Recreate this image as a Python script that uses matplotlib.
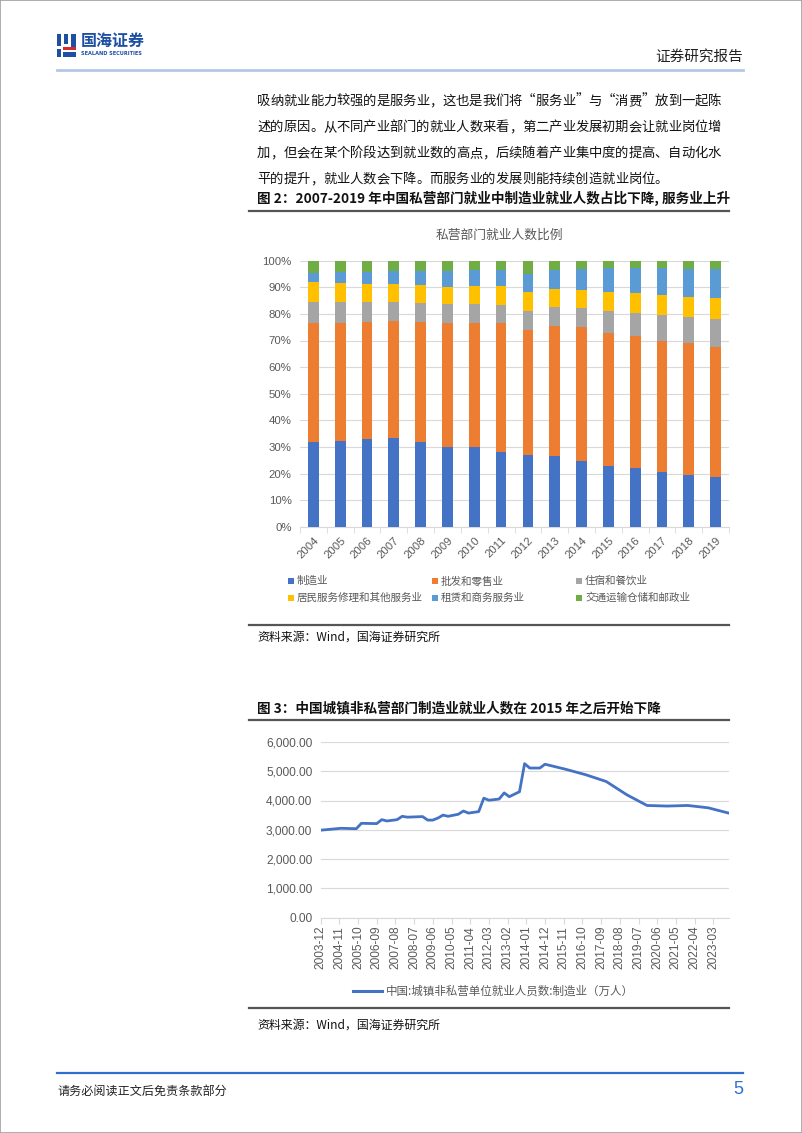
import matplotlib
matplotlib.use('Agg')
import matplotlib.pyplot as plt
import pandas as pd
from matplotlib.patches import Rectangle
from matplotlib.lines import Line2D

plt.rcParams['font.family'] = ['Noto Sans CJK SC', 'DejaVu Sans']

# ---------------- data ----------------
years = [str(y) for y in range(2004, 2020)]
manufacturing = [31.8, 32.2, 33.1, 33.4, 31.8, 29.8, 30.0, 27.9, 26.9, 26.4, 24.6, 22.9, 21.9, 20.5, 19.5, 18.5]
wholesale     = [44.7, 44.3, 43.9, 44.0, 45.1, 46.7, 46.5, 48.5, 47.1, 49.1, 50.3, 50.1, 49.9, 49.4, 49.5, 48.9]
hotel         = [8.1, 7.8, 7.6, 7.2, 7.2, 7.3, 7.1, 7.0, 7.0, 7.1, 7.2, 8.1, 8.7, 9.5, 9.8, 10.5]
resident      = [7.4, 7.2, 6.7, 6.5, 6.8, 6.5, 7.0, 7.1, 7.1, 6.9, 7.0, 7.0, 7.4, 7.6, 7.6, 8.0]
leasing       = [3.5, 4.4, 4.6, 4.9, 5.1, 5.8, 5.9, 6.0, 6.8, 7.1, 7.9, 9.2, 9.4, 10.3, 10.4, 10.9]
transport     = [4.5, 4.1, 4.1, 4.0, 4.0, 3.9, 3.5, 3.5, 5.1, 3.4, 3.0, 2.7, 2.7, 2.7, 3.2, 3.2]
bar_series_names = ['制造业', '批发和零售业', '住宿和餐饮业',
                    '居民服务修理和其他服务业', '租赁和商务服务业', '交通运输仓储和邮政业']
bar_colors = ['#4472C4', '#ED7D31', '#A5A5A5', '#FFC000', '#5B9BD5', '#70AD47']

line_dates = ['2003-12', '2004-12', '2005-09', '2005-12', '2006-09', '2006-12', '2007-03',
              '2007-09', '2007-12', '2008-03', '2008-12', '2009-03', '2009-06', '2009-09',
              '2009-12', '2010-03', '2010-09', '2010-12', '2011-03', '2011-09', '2011-12',
              '2012-03', '2012-09', '2012-12', '2013-03', '2013-09', '2013-12', '2014-03',
              '2014-09', '2014-12', '2015-12', '2016-12', '2017-12', '2018-12', '2019-12',
              '2020-12', '2021-12', '2022-12', '2023-12']
line_values = [2985, 3050, 3035, 3220, 3210, 3345, 3300,
               3345, 3460, 3430, 3450, 3330, 3330, 3400,
               3500, 3460, 3530, 3640, 3570, 3620, 4080,
               4010, 4050, 4260, 4130, 4300, 5260, 5110,
               5110, 5240, 5070, 4880, 4650, 4200, 3830,
               3810, 3830, 3750, 3570]
line_label = '中国:城镇非私营单位就业人员数:制造业（万人）'

# ---------------- page helpers ----------------
W, H = 802, 1133
fig = plt.figure(figsize=(W / 100, H / 100), dpi=100)

def fx(x):
    return x / W

def fy(y):
    return 1 - y / H

def rect(l, t, r, b):
    return [l / W, 1 - b / H, (r - l) / W, (b - t) / H]

def hline(x0, x1, y, color, lw):
    fig.add_artist(Line2D([fx(x0), fx(x1)], [fy(y), fy(y)], color=color, lw=lw,
                          transform=fig.transFigure))

def ftext(x, y, s, **kw):
    kw.setdefault('va', 'center')
    fig.text(fx(x), fy(y), s, **kw)

# page frame
fig.add_artist(Rectangle((0, 0), 1, 1, transform=fig.transFigure, fill=False,
                         ec='#A0A0A0', lw=1.2))

# ---------------- header ----------------
logo_blue = '#1D4FA3'
logo_red = '#D7282F'
for (l, t, r, b, c) in [(57, 34, 61, 46, logo_blue), (64, 34, 68, 44, logo_blue),
                        (71, 34, 76, 48, logo_blue), (57, 49, 61, 57, logo_blue),
                        (63, 47, 76, 50, logo_red), (63, 52, 76, 57, logo_blue)]:
    fig.add_artist(Rectangle((fx(l), fy(b)), (r - l) / W, (b - t) / H,
                             transform=fig.transFigure, color=c, lw=0))
ftext(81, 41, '国海证券', fontsize=11.5, color=logo_blue, fontweight='bold')
ftext(81, 53.5, 'SEALAND SECURITIES', fontsize=3.6, color=logo_blue, fontweight='bold',
      family='DejaVu Sans')
ftext(743, 57, '证券研究报告', fontsize=10.5, color='#222222', ha='right')
hline(57, 743, 70, '#B4C7E7', 2.0)

# ---------------- body text ----------------
body_lines = ['吸纳就业能力较强的是服务业，这也是我们将“服务业”与“消费”放到一起陈',
              '述的原因。从不同产业部门的就业人数来看，第二产业发展初期会让就业岗位增',
              '加，但会在某个阶段达到就业数的高点，后续随着产业集中度的提高、自动化水',
              '平的提升，就业人数会下降。而服务业的发展则能持续创造就业岗位。']
x_start, x_end = 257, 721
pitch = (x_end - x_start) / len(body_lines[1])
for i, ln in enumerate(body_lines):
    y = 101 + i * 26
    p = (x_end - x_start) / len(ln) if i < 3 else pitch
    for j, ch in enumerate(ln):
        ftext(x_start + (j + 0.5) * p, y, ch, fontsize=9.6, color='#111111', ha='center')

# ---------------- figure 2 ----------------
ftext(257, 198, '图 2：2007-2019 年中国私营部门就业中制造业就业人数占比下降, 服务业上升',
      fontsize=9.8, fontweight='bold', color='#111111')
hline(249, 729, 211, '#555555', 1.6)

ax1 = fig.add_axes(rect(300, 260.7, 729, 526.7))
series = [manufacturing, wholesale, hotel, resident, leasing, transport]
x = list(range(len(years)))
bottom = [0.0] * len(years)
for vals, name, col in zip(series, bar_series_names, bar_colors):
    ax1.bar(x, vals, width=0.4, bottom=bottom, color=col, label=name, zorder=3)
    bottom = [b + v for b, v in zip(bottom, vals)]
ax1.set_xlim(-0.5, len(years) - 0.5)
ax1.set_ylim(0, 100)
ax1.set_yticks(range(0, 101, 10))
ax1.set_yticklabels([f'{v}%' for v in range(0, 101, 10)], family='Liberation Sans',
                    fontsize=8.2, color='#595959')
ax1.set_xticks(x)
ax1.set_xticklabels(years, rotation=45, ha='right', rotation_mode='anchor',
                    family='Liberation Sans', fontsize=8.2, color='#595959')
ax1.set_xticks([i - 0.5 for i in range(len(years) + 1)], minor=True)
ax1.tick_params(axis='x', which='major', length=0, pad=6)
ax1.tick_params(axis='x', which='minor', length=4, color='#D9D9D9')
ax1.tick_params(axis='y', length=0, pad=6)
ax1.grid(axis='y', color='#D9D9D9', lw=0.8, zorder=0)
for s in ['top', 'right', 'left']:
    ax1.spines[s].set_visible(False)
ax1.spines['bottom'].set_color('#D9D9D9')
ax1.set_facecolor('none')

ftext(499, 235, '私营部门就业人数比例', fontsize=9.2, color='#595959', ha='center')

# legend (manual, 3 columns)
leg_pos = [(291, 581), (435, 581), (579, 581), (291, 597.5), (435, 597.5), (579, 597.5)]
for (lx, ly), name, col in zip(leg_pos, bar_series_names, bar_colors):
    fig.add_artist(Rectangle((fx(lx - 3), fy(ly + 3)), 6 / W, 6 / H,
                             transform=fig.transFigure, color=col, lw=0))
    ftext(lx + 6, ly, name, fontsize=7.6, color='#595959')

hline(249, 729, 625, '#555555', 1.6)
ftext(257, 637, '资料来源：Wind，国海证券研究所', fontsize=8.6, color='#111111')

# ---------------- figure 3 ----------------
ftext(257, 708, '图 3：中国城镇非私营部门制造业就业人数在 2015 年之后开始下降',
      fontsize=9.8, fontweight='bold', color='#111111')
hline(249, 729, 720, '#555555', 1.6)

ax2 = fig.add_axes(rect(320.6, 742, 728.6, 917.5))
base = pd.Period('2003-12', freq='M')
mx = [(pd.Period(d, freq='M') - base).n for d in line_dates]
ax2.plot(mx, line_values, color='#4472C4', lw=2.0, zorder=3, solid_joinstyle='round')
ax2.set_xlim(0, 240)
ax2.set_ylim(0, 6000)
ax2.set_yticks(range(0, 6001, 1000))
ax2.set_yticklabels([f'{v:,.2f}' for v in range(0, 6001, 1000)], family='Liberation Sans',
                    fontsize=8.6, color='#595959')
tick_m = list(range(0, 232, 11))
ax2.set_xticks(tick_m)
ax2.set_xticklabels([str(base + m) for m in tick_m], rotation=90, family='Liberation Sans',
                    fontsize=8.6, color='#595959')
ax2.tick_params(axis='x', length=4, color='#D9D9D9', pad=2)
ax2.tick_params(axis='y', length=0, pad=6)
ax2.grid(axis='y', color='#D9D9D9', lw=0.8, zorder=0)
for s in ['top', 'right', 'left']:
    ax2.spines[s].set_visible(False)
ax2.spines['bottom'].set_color('#D9D9D9')
ax2.set_facecolor('none')

fig.add_artist(Line2D([fx(353), fx(382)], [fy(991), fy(991)], color='#4472C4', lw=2.2,
                      transform=fig.transFigure))
ftext(386, 991, line_label, fontsize=8.3, color='#595959')

hline(249, 729, 1008, '#555555', 1.6)
ftext(257, 1025, '资料来源：Wind，国海证券研究所', fontsize=8.6, color='#111111')

# ---------------- footer ----------------
hline(57, 743, 1073, '#2F6FD0', 1.6)
ftext(57, 1091, '请务必阅读正文后免责条款部分', fontsize=8.7, color='#222222')
ftext(743, 1090, '5', fontsize=13, color='#2F6FD0', ha='right', family='Liberation Sans')

fig.savefig('out.png', dpi=100)
